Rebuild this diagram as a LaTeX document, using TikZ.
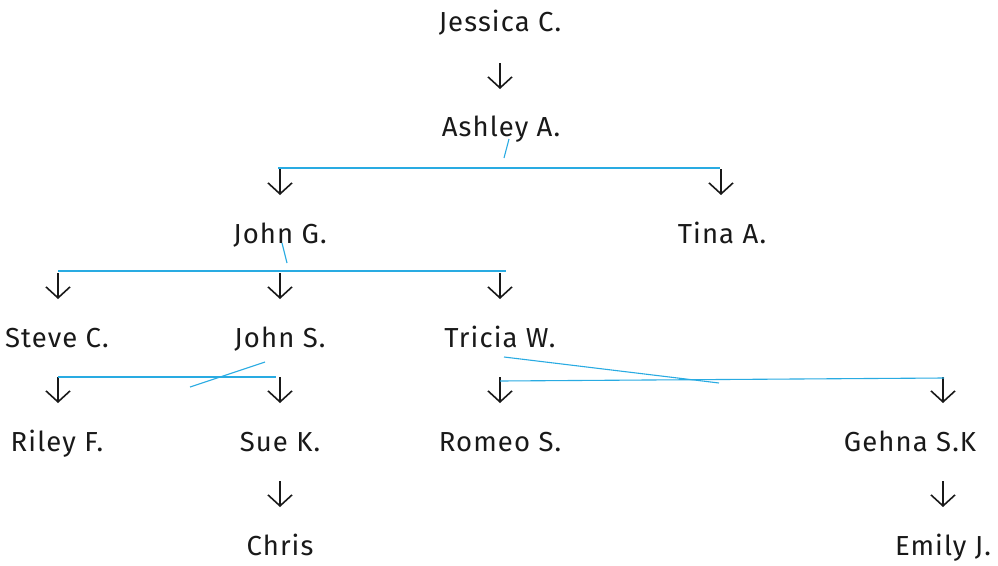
\documentclass[tikz,border=0pt]{standalone}
\usepackage{fontspec}
\setmainfont{Fira Sans}[LetterSpace=4]
\usetikzlibrary{arrows.meta}
\definecolor{linkblue}{RGB}{41,171,226}
\begin{document}
\begin{tikzpicture}[x=1pt,y=-1pt,
  person/.style={inner sep=0pt,anchor=base,font=\fontsize{27.5}{32}\selectfont,text=black!90},
  link/.style={draw=linkblue,line width=1.1pt},
  downarrow/.style={draw=black!90,line width=1.6pt,-{Straight Barb[length=11pt,width=24pt,line width=1.6pt]}}]
\useasboundingbox (0,0) rectangle (998,565);
% people
\node[person] (jessica) at (500,31.5) {Jessica C.};
\node[person] (ashley) at (501,136.5) {Ashley A.};
\node[person] (johng) at (280,243.5) {John G.};
\node[person] (tina) at (722,243.5) {Tina A.};
\node[person] (steve) at (57,347.5) {Steve C.};
\node[person] (johns) at (280,347.5) {John S.};
\node[person] (tricia) at (500,347.5) {Tricia W.};
\node[person] (riley) at (57,451.5) {Riley F.};
\node[person] (sue) at (280,451.5) {Sue K.};
\node[person] (romeo) at (500,451.5) {Romeo S.};
\node[person] (gehna) at (910,451.5) {Gehna S.K};
\node[person] (chris) at (280,555.5) {Chris};
\node[person] (emily) at (943,555.5) {Emily J.};
% arrow positions (top, bottom)
\foreach \n/\x/\y in {a1/500/63, a2/280/169, a3/721/169, a4/58/273, a5/280/273, a6/500/273, a7/58/377, a8/280/377, a9/500/377, a10/943/377, a11/280/481, a12/943/481}{
  \coordinate (\n t) at (\x,\y);
  \coordinate (\n b) at (\x,\y+26);
  \draw[downarrow] (\n t) -- (\n b);
}
% blue link lines
\coordinate (l1a) at (509,139); \coordinate (l1b) at (504,158);
\coordinate (h1a) at (278,168); \coordinate (h1b) at (720,168);
\coordinate (l2a) at (282,243); \coordinate (l2b) at (287,263);
\coordinate (h2a) at (58,271); \coordinate (h2b) at (506,271);
\coordinate (l3a) at (265,362); \coordinate (l3b) at (190,387);
\coordinate (h3a) at (58,377); \coordinate (h3b) at (276,377);
\coordinate (l4a) at (504,357); \coordinate (l4b) at (719,383);
\coordinate (h4a) at (500,381); \coordinate (h4b) at (944,378);
\draw[link] (l1a) -- (l1b);
\draw[link] (h1a) -- (h1b);
\draw[link] (l2a) -- (l2b);
\draw[link] (h2a) -- (h2b);
\draw[link] (l3a) -- (l3b);
\draw[link] (h3a) -- (h3b);
\draw[link] (l4a) -- (l4b);
\draw[link] (h4a) -- (h4b);
\end{tikzpicture}
\end{document}
